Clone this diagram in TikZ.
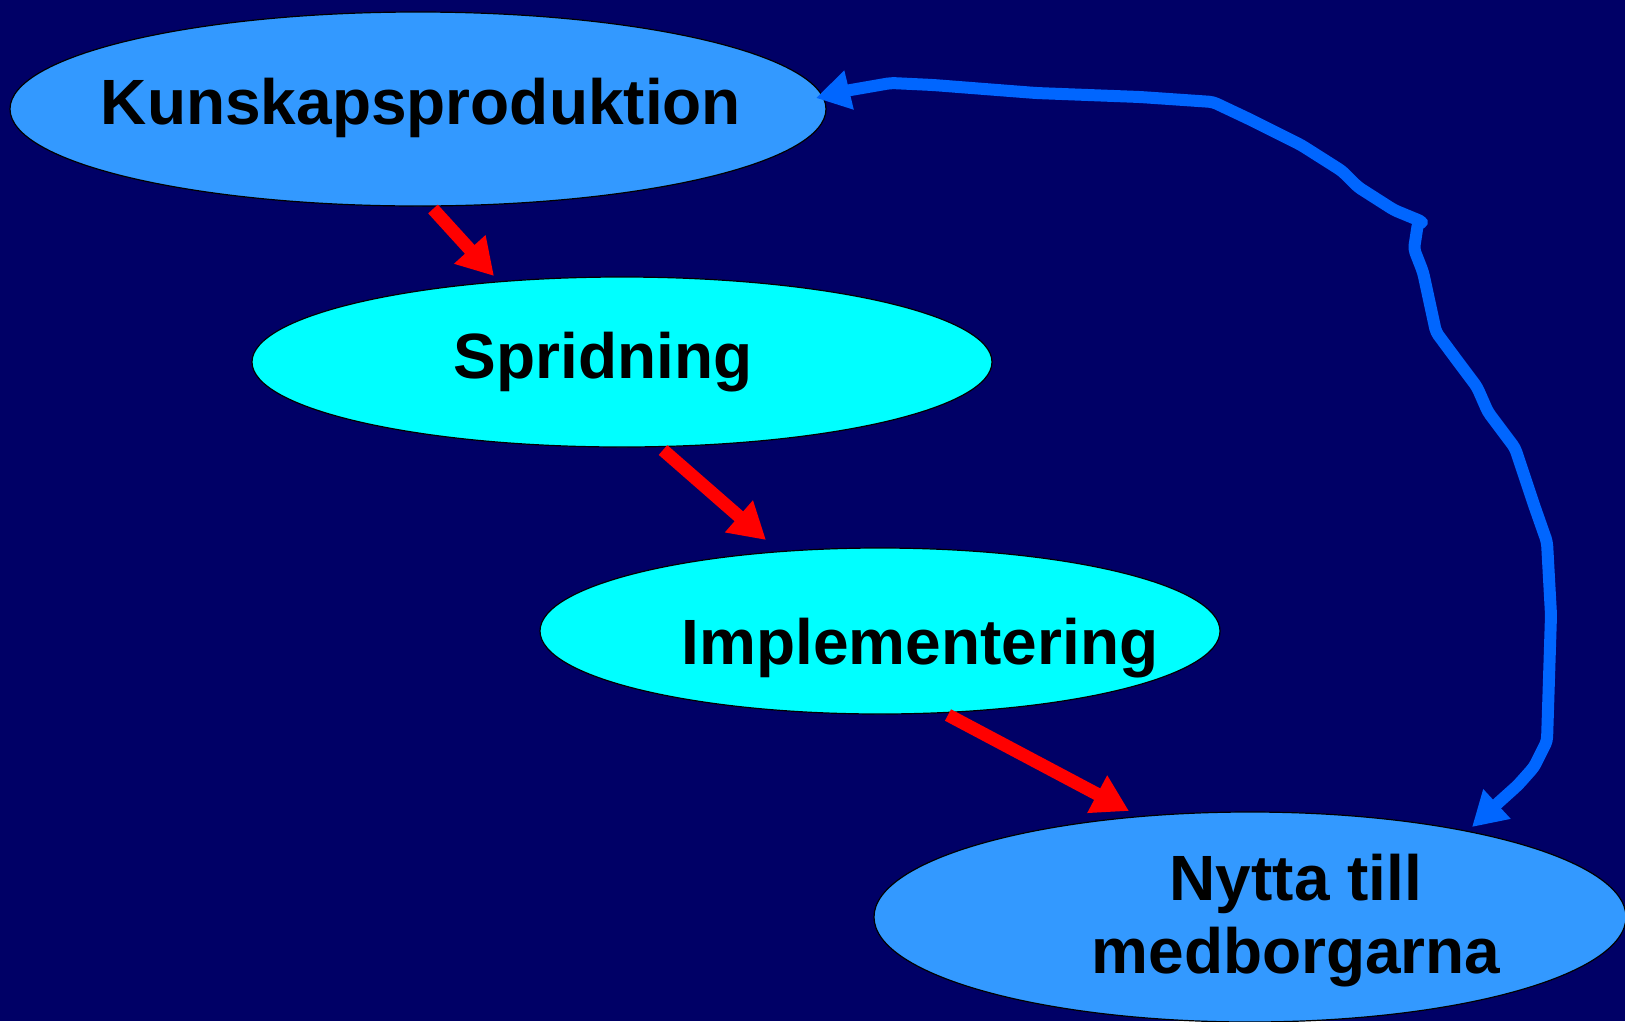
\documentclass[tikz,border=0pt]{standalone}
\usepackage{fontspec}
\setmainfont{Liberation Sans}
\usetikzlibrary{shapes.geometric,arrows.meta}
\definecolor{bgnavy}{HTML}{000066}
\definecolor{lightblue}{HTML}{3399FF}
\definecolor{cyanfill}{HTML}{00FFFF}
\definecolor{arrowblue}{HTML}{0066FF}
\definecolor{arrowred}{HTML}{FF0000}
\tikzset{
  oval/.style={ellipse, draw=black, line width=1.2pt, inner sep=0pt},
  lbl/.style={font=\fontsize{64}{73}\selectfont\bfseries, text=black, inner sep=0pt, align=center},
  redarrow/.style={draw=arrowred, line width=13pt, -{Triangle[length=36pt,width=40pt]}},
  bluearrow/.style={draw=arrowblue, line width=12pt, line join=round, line cap=round, rounded corners=4pt,
     {Triangle[length=34pt,width=38pt]}-{Triangle[length=34pt,width=38pt]}},
}
\begin{document}
\begin{tikzpicture}[x=1pt,y=-1pt]
\useasboundingbox (0,0) rectangle (1625,1021);
\clip (0,0) rectangle (1625,1021);
\fill[bgnavy] (0,0) rectangle (1625,1021);
% ellipses
\node[oval, fill=lightblue, minimum width=816pt, minimum height=194pt] (k) at (418,109) {};
\node[oval, fill=cyanfill, minimum width=740pt, minimum height=170pt] (s) at (622,362) {};
\node[oval, fill=cyanfill, minimum width=680pt, minimum height=166pt] (im) at (880,631) {};
\node[oval, fill=lightblue, minimum width=752pt, minimum height=210pt] (n) at (1250,917) {};
% labels
\node[lbl, anchor=base] (kt) at (421,124) {Kunskapsproduktion};
\node[lbl, anchor=base] (st) at (603,378) {Spridning};
\node[lbl, anchor=base] (imt) at (920,664) {Implementering};
\node[lbl, anchor=center] (nt) at (1296,921) {Nytta till\\medborgarna};
% red arrows
\coordinate (r1s) at (433,209); \coordinate (r1e) at (494,276);
\coordinate (r2s) at (663,450); \coordinate (r2e) at (766,540);
\coordinate (r3s) at (948,715); \coordinate (r3e) at (1129,811);
\draw[redarrow] (r1s) -- (r1e);
\draw[redarrow] (r2s) -- (r2e);
\draw[redarrow] (r3s) -- (r3e);
% blue feedback arrow
\coordinate (bs) at (1472,827);
\coordinate (be) at (816,98);
\draw[bluearrow] (bs) -- (1498,803) -- (1518,785) -- (1534,767) -- (1547,741)
  -- (1551,615) -- (1547,542) -- (1534,505) -- (1515,448) -- (1488,412)
  -- (1477,387) -- (1459,363) -- (1436,332) -- (1423,272) -- (1414,249)
  -- (1418,223) -- (1423,222) -- (1394,210) -- (1358,187) -- (1342,171)
  -- (1301,145) -- (1249,119) -- (1213,102) -- (1140,97) -- (1036,93)
  -- (933,85) -- (891,83) -- (845,91) -- (be);
\end{tikzpicture}
\end{document}
